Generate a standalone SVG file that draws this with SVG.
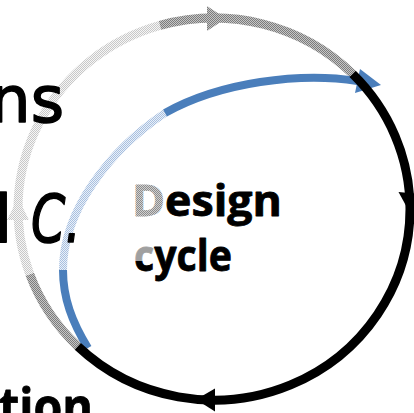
<svg xmlns="http://www.w3.org/2000/svg" width="414" height="413" viewBox="0 0 414 413">
<defs>
<pattern id="pDark" width="2" height="2" patternUnits="userSpaceOnUse"><rect width="2" height="2" fill="#c6c6c6"/><rect width="1" height="1" fill="#7c7c7c"/><rect x="1" y="1" width="1" height="1" fill="#7c7c7c"/></pattern>
<pattern id="pLight" width="2" height="2" patternUnits="userSpaceOnUse"><rect width="2" height="2" fill="#f6f6f6"/><rect width="1" height="1" fill="#c8c8c8"/><rect x="1" y="1" width="1" height="1" fill="#c8c8c8"/></pattern>
<pattern id="pBlue" width="2" height="2" patternUnits="userSpaceOnUse"><rect width="2" height="2" fill="#eaf0f8"/><rect width="1" height="1" fill="#a8c0e0"/><rect x="1" y="1" width="1" height="1" fill="#a8c0e0"/></pattern>
<pattern id="pText" width="2" height="2" patternUnits="userSpaceOnUse"><rect width="2" height="2" fill="#d0d0d0"/><rect width="1" height="1" fill="#8c8c8c"/><rect x="1" y="1" width="1" height="1" fill="#8c8c8c"/></pattern>
<linearGradient id="gC" gradientUnits="userSpaceOnUse" x1="0" y1="250" x2="0" y2="272"><stop offset="0.5" stop-color="#a0a0a0"/><stop offset="0.5" stop-color="#000"/></linearGradient>
</defs>
<style>
.arc{fill:none;stroke-width:9;stroke-linecap:butt}
.blue{fill:none;stroke-width:8;stroke-linecap:butt}
.hand{font-family:"DejaVu Sans",sans-serif;fill:#000;stroke:#000;stroke-width:1.6;stroke-linejoin:round}
.bold{font-family:"Open Sans","Noto Sans",sans-serif;font-weight:bold;fill:#000;stroke:#000;stroke-width:0.8;stroke-linejoin:round}
</style>
<g id="connectors">
<path class="arc" stroke="url(#pDark)" d="M77.8,346.4 A196,191 0 0 1 29.8,274.3"/>
<path class="arc" stroke="url(#pLight)" d="M29.8,274.3 A196,191 0 0 1 160,25.4"/>
<path class="arc" stroke="url(#pDark)" d="M160,25.4 A196,191 0 0 1 352.6,73.9"/>
<polygon fill="url(#pDark)" points="207,6 226,18.5 207,31"/>
<polygon fill="url(#pLight)" points="7,220 18,198 29,220"/>
<path class="blue" stroke="#4a7ebb" d="M88,348 C72,322 63,298 63,270"/>
<path class="blue" stroke="url(#pBlue)" d="M63,270 C63,210 110,150 165,113"/>
<path class="blue" stroke="#4a7ebb" d="M165,113 C220,82 300,72 357.5,81"/>
<polygon fill="#4a7ebb" points="360,69 381,85 355,93"/>
<path class="arc" stroke="#000" d="M352.6,73.9 A196,191 0 0 1 410,209 A196,191 0 0 1 77.8,346.4"/>
<polygon fill="#000" points="398.5,192 421,194 410,213"/>
<polygon fill="#000" points="215,388.5 215,411.5 196,399.5"/>
</g>
<g id="label-ns"><text class="hand" x="64" y="122" font-size="64" text-anchor="end">ns</text></g>
<g id="label-lc"><text class="hand" y="242" font-size="66"><tspan x="-6">l </tspan><tspan x="31" font-style="italic" textLength="50" lengthAdjust="spacingAndGlyphs">C.</tspan></text></g>
<g id="label-design-cycle">
<text class="bold" x="132" y="216" font-size="43" textLength="150" lengthAdjust="spacingAndGlyphs"><tspan fill="url(#pText)" stroke="url(#pText)">D</tspan>esign</text>
<text class="bold" x="134" y="271" font-size="43" textLength="98" lengthAdjust="spacingAndGlyphs"><tspan fill="url(#gC)" stroke="url(#gC)">c</tspan>ycle</text>
</g>
<g id="label-tion"><text class="bold" x="-1" y="424" font-size="50" textLength="94" lengthAdjust="spacingAndGlyphs">tion</text></g>
</svg>
